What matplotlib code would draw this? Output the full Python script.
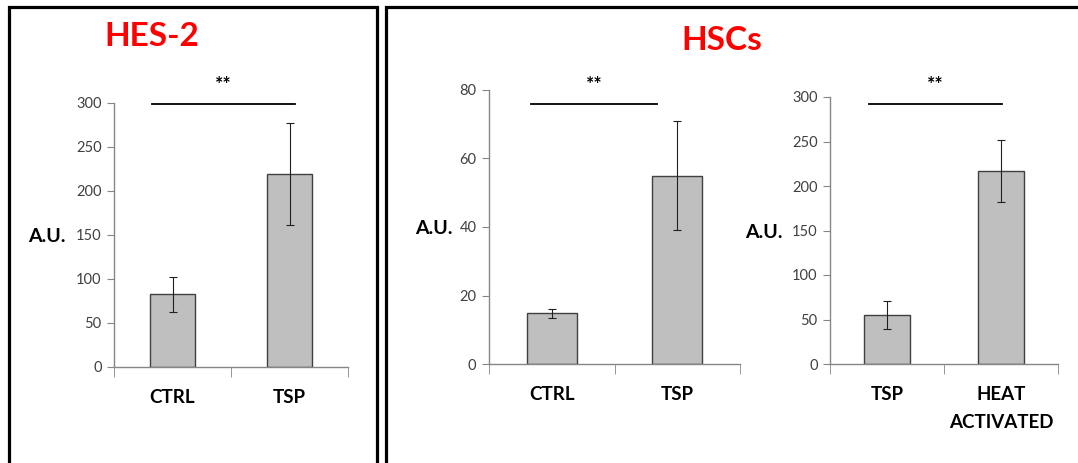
import matplotlib.pyplot as plt
from matplotlib.patches import Rectangle

W, H = 1078, 463

# data
hes_labels = ["CTRL", "TSP"]
hes_means = [82.5, 219]
hes_err = [20, 58]

hsc1_labels = ["CTRL", "TSP"]
hsc1_means = [14.8, 55]
hsc1_err = [1.4, 16]

hsc2_labels = ["TSP", "HEAT\nACTIVATED"]
hsc2_means = [55, 217]
hsc2_err = [16, 35]

FONT = ["Lato", "DejaVu Sans"]
GRAY = "#868686"


def frac(x0, x1, ytop, ybot):
    return [x0 / W, (H - ybot) / H, (x1 - x0) / W, (ybot - ytop) / H]


def panel(fig, rect, labels, means, err, ymax, ystep, sig_y, sig_x, width):
    ax = fig.add_axes(rect)
    x = list(range(len(labels)))
    ax.bar(x, means, width=width, color="#bfbfbf", edgecolor="#404040", linewidth=1, zorder=2)
    ax.errorbar(x, means, yerr=err, fmt="none", ecolor="#202020", elinewidth=0.8, capsize=3, capthick=0.8, zorder=3)
    ax.set_xlim(-0.5, len(labels) - 0.5)
    ax.set_ylim(0, ymax)
    ax.set_yticks(range(0, ymax + 1, ystep))
    ax.set_xticks(x)
    ax.set_xticklabels(labels, fontsize=13.5, fontweight="bold", family=FONT, linespacing=1.75)
    ax.set_xticks([i - 0.5 for i in range(len(labels) + 1)], minor=True)
    ax.tick_params(axis="x", which="major", length=0, pad=16)
    ax.tick_params(axis="x", which="minor", length=7, color=GRAY, direction="out")
    ax.tick_params(axis="y", length=5, color=GRAY, labelsize=10.5, labelcolor="#404040", pad=4)
    for lab in ax.get_yticklabels():
        lab.set_family(FONT)
    for s in ("top", "right"):
        ax.spines[s].set_visible(False)
    for s in ("left", "bottom"):
        ax.spines[s].set_color(GRAY)
        ax.spines[s].set_linewidth(1)
    ax.plot(sig_x, [sig_y, sig_y], color="black", linewidth=1.3, clip_on=False)
    ax.annotate("**", (sum(sig_x) / 2, sig_y), xytext=(0, 14), textcoords="offset points",
                ha="center", va="center", fontsize=14, fontweight="bold", family=FONT,
                annotation_clip=False)
    return ax


fig = plt.figure(figsize=(W / 100, H / 100), dpi=100)

# panel frames
for x0, x1 in [(8.5, 376.5), (386, 1080)]:
    fig.add_artist(Rectangle((x0 / W, -0.05), (x1 - x0) / W, (H - 7) / H + 0.05,
                             transform=fig.transFigure, fill=False, edgecolor="black", linewidth=2.3))

panel(fig, frac(114, 348, 103, 367), hes_labels, hes_means, hes_err, 300, 50, 299, [-0.175, 1.047], 0.39)
panel(fig, frac(489, 740, 90, 364), hsc1_labels, hsc1_means, hsc1_err, 80, 20, 75.8, [-0.165, 0.839], 0.4)
panel(fig, frac(830, 1058, 97, 364), hsc2_labels, hsc2_means, hsc2_err, 300, 50, 292, [-0.158, 1.009], 0.4)

for x, y in [(47, 236), (434, 228), (764, 233)]:
    fig.text(x / W, 1 - y / H, "A.U.", ha="center", va="center", fontsize=14, fontweight="bold", family=FONT)

fig.text(152 / W, 1 - 37 / H, "HES-2", ha="center", va="center", color="#ff0000",
         fontsize=24, fontweight="bold", family=FONT)
fig.text(722 / W, 1 - 40 / H, "HSCs", ha="center", va="center", color="#ff0000",
         fontsize=24, fontweight="bold", family=FONT)

fig.savefig("out.png", dpi=100)
